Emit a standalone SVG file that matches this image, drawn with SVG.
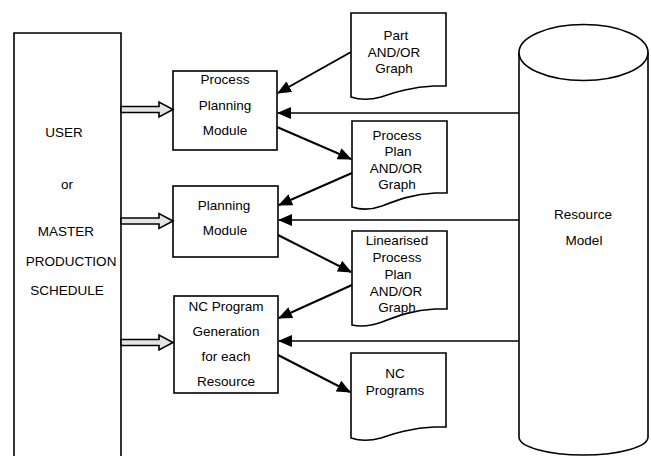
<svg xmlns="http://www.w3.org/2000/svg" width="651" height="456" viewBox="0 0 651 456">
<defs>
<marker id="ah" markerUnits="userSpaceOnUse" markerWidth="14" markerHeight="12" refX="13" refY="6" orient="auto">
<path d="M0,0 L14,6 L0,12 z" fill="#000"/>
</marker>
</defs>
<style>
text{font-family:"Liberation Sans",Arial,sans-serif;font-size:13.5px;fill:#000;text-anchor:middle}
.box{fill:#fff;stroke:#000;stroke-width:1.6}
.doc{fill:#fff;stroke:#000;stroke-width:1.6}
.conn{stroke:#000;stroke-width:2;fill:none}
.hz{stroke:#000;stroke-width:1.4;fill:none}
.dbl{fill:#e4e4e4;stroke:#000;stroke-width:1.6;stroke-linejoin:miter}
</style>
<rect width="651" height="456" fill="#fff"/>

<g id="user">
<path d="M14,460 V33 H121 V460" fill="#fff" stroke="#000" stroke-width="1.6"/>
<text x="64" y="137">USER</text>
<text x="67" y="189">or</text>
<text x="66" y="236">MASTER</text>
<text x="71" y="266">PRODUCTION</text>
<text x="67" y="295">SCHEDULE</text>
</g>

<g id="ppm">
<rect class="box" x="173" y="71" width="104" height="79"/>
<text x="225" y="84">Process</text>
<text x="225" y="110">Planning</text>
<text x="225" y="135">Module</text>
</g>

<g id="pm">
<rect class="box" x="173" y="186" width="105" height="71"/>
<text x="224" y="210">Planning</text>
<text x="225" y="235">Module</text>
</g>

<g id="ncgen">
<rect class="box" x="174" y="296" width="104" height="97"/>
<text x="226" y="311">NC Program</text>
<text x="226" y="336">Generation</text>
<text x="226" y="361">for each</text>
<text x="226" y="386">Resource</text>
</g>

<g id="partgraph">
<path class="doc" d="M351,13 H446 V86 H434 C412,87 396,92 381,97 C370,100 360,100 351,97 Z"/>
<text x="396" y="40">Part</text>
<text x="394" y="57">AND/OR</text>
<text x="394" y="73">Graph</text>
</g>

<g id="ppgraph">
<path class="doc" d="M352,121 H447 V193 H435 C413,194 397,200 382,206 C371,210 361,210 352,207 Z"/>
<text x="397" y="140">Process</text>
<text x="398" y="156">Plan</text>
<text x="396" y="173">AND/OR</text>
<text x="397" y="189">Graph</text>
</g>

<g id="lppgraph">
<path class="doc" d="M352,231 H447 V309 H435 C413,310 397,316 382,322 C371,326 361,327 352,325 Z"/>
<text x="397" y="245">Linearised</text>
<text x="397" y="262">Process</text>
<text x="398" y="279">Plan</text>
<text x="396" y="296">AND/OR</text>
<text x="397" y="312">Graph</text>
</g>

<g id="ncprog">
<path class="doc" d="M351,353 H446 V427 H434 C412,428 396,433 381,438 C370,441 360,441 351,438 Z"/>
<text x="395" y="378">NC</text>
<text x="395" y="395">Programs</text>
</g>

<g id="resource">
<path d="M519,52.5 V437 A64.5,18 0 0 0 648,437 V52.5" fill="#fff" stroke="#000" stroke-width="1.6"/>
<ellipse cx="583.5" cy="52.5" rx="64.5" ry="28" fill="#fff" stroke="#000" stroke-width="1.6"/>
<text x="583" y="219">Resource</text>
<text x="584" y="245">Model</text>
</g>

<g id="connectors">
<polygon class="dbl" points="121,106.5 159,106.5 159,102 173,109.5 159,117 159,112.5 121,112.5"/>
<polygon class="dbl" points="121,218 159,218 159,213.5 173,221 159,228.5 159,224 121,224"/>
<polygon class="dbl" points="121,339.5 159,339.5 159,335 173,342.5 159,350 159,345.5 121,345.5"/>
<line class="conn" x1="351" y1="52" x2="278" y2="93" marker-end="url(#ah)"/>
<line class="conn" x1="277" y1="127" x2="351" y2="159" marker-end="url(#ah)"/>
<line class="conn" x1="352" y1="173" x2="279" y2="205" marker-end="url(#ah)"/>
<line class="conn" x1="278" y1="235" x2="351" y2="272" marker-end="url(#ah)"/>
<line class="conn" x1="352" y1="285" x2="279" y2="318" marker-end="url(#ah)"/>
<line class="conn" x1="278" y1="355" x2="350" y2="392" marker-end="url(#ah)"/>
<line class="hz" x1="519" y1="113" x2="278" y2="113" marker-end="url(#ah)"/>
<line class="hz" x1="519" y1="220" x2="279" y2="220" marker-end="url(#ah)"/>
<line class="hz" x1="519" y1="341" x2="279" y2="341" marker-end="url(#ah)"/>
</g>
</svg>
